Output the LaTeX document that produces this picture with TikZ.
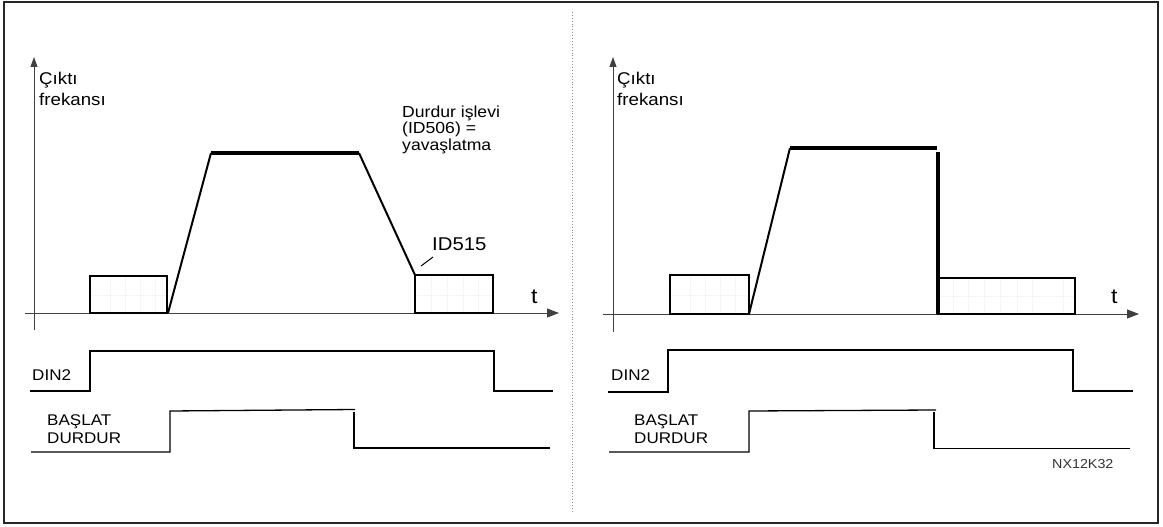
\documentclass[tikz,border=0pt]{standalone}
\usepackage{fontspec}
\setmainfont{Liberation Sans}[FakeStretch=1.1]
\usetikzlibrary{arrows.meta}

\begin{document}
\begin{tikzpicture}[
    x=1pt, y=-1pt,
    frame/.style={draw=black!85, line width=1.4pt},
    divider/.style={draw=black!45, line width=0.9pt, dotted},
    axis/.style={draw=black!75, line width=0.9pt},
    yarrow/.style={axis, -{Triangle[length=10pt, width=7pt]}},
    tarrow/.style={axis, -{Triangle[length=12pt, width=9pt]}},
    pulsebox/.style={draw=black, line width=1.5pt},
    hatch/.style={draw=black!4, line width=0.6pt},
    ramp/.style={draw=black, line width=2pt},
    plateau/.style={draw=black, line width=3.4pt},
    signal/.style={draw=black, line width=1.3pt},
    lbl/.style={anchor=base west, inner sep=0pt, align=left},
    axislbl/.style={lbl, font=\fontsize{17}{21}\selectfont},
    timelbl/.style={lbl, font=\fontsize{21}{21}\selectfont},
    notelbl/.style={lbl, font=\fontsize{16}{16.5}\selectfont},
    idlbl/.style={lbl, font=\fontsize{18.5}{20}\selectfont},
    siglbl/.style={lbl, font=\fontsize{15.5}{18}\selectfont},
    codelbl/.style={lbl, font=\fontsize{13}{15}\selectfont, black!80},
]
\useasboundingbox (0,0) rectangle (1163,527);

% Outer frame and divider
\draw[frame] (4,2) rectangle (1158,523);
\draw[divider] (572,12) -- (572,512);

% ---------------- Left panel: stop by ramp ----------------
\coordinate (Lorigin) at (34,313);
\draw[yarrow] (34,330) -- (34,57);
\draw[tarrow] (25,313) -- (559,313);
\node[axislbl] (Lfreq) at (39,106) {Çıktı\\frekansı};
\node[timelbl] (Ltime) at (531,303) {t};

% DC brake boxes
\foreach \x in {110,125,140,155} \draw[hatch] (\x,277) -- (\x,312);
\draw[hatch] (91,295) -- (166,295);
\draw[pulsebox] (90,276) rectangle (167,313);
\foreach \x in {431,447,463,478} \draw[hatch] (\x,276) -- (\x,312);
\draw[hatch] (416,295) -- (492,295);
\draw[pulsebox] (415,275) rectangle (493,313);

% Output frequency
\coordinate (Lup0) at (168,313);
\coordinate (Lup1) at (211,153);
\coordinate (Ldn0) at (359,153);
\coordinate (Ldn1) at (415,275);
\draw[ramp] (Lup0) -- (Lup1);
\draw[plateau] (Lup1) -- (Ldn0);
\draw[ramp] (Ldn0) -- (Ldn1);

\node[notelbl] (Lnote) at (402,150) {Durdur işlevi\\(ID506) =\\yavaşlatma};
\node[idlbl] (Lid) at (432,250) {ID515};
\draw[signal, line width=1pt] (421,266) -- (433,257);

% Control signals
\draw[signal] (30,391) -- (90,391) -- (90,351) -- (494,351) -- (494,391) -- (553,391);
\node[siglbl] (Ldin) at (32,380) {DIN2};
\draw[signal] (31,452) -- (170,452) -- (170,411) -- (355,409.5);
\draw[signal] (354,412) -- (354,448) -- (550,448);
\node[siglbl] (Lstart) at (47,443) {BAŞLAT\\DURDUR};

% ---------------- Right panel: stop by coasting ----------------
\coordinate (Rorigin) at (613,314);
\draw[yarrow] (613,332) -- (613,57);
\draw[tarrow] (603,314) -- (1139,314);
\node[axislbl] (Rfreq) at (617,106) {Çıktı\\frekansı};
\node[timelbl] (Rtime) at (1111,303) {t};

% DC brake boxes
\foreach \x in {690,705,720,735} \draw[hatch] (\x,276) -- (\x,313);
\draw[hatch] (671,295) -- (748,295);
\draw[pulsebox] (670,275) rectangle (749,314);
\foreach \x in {953,968,984,1000,1017,1032,1063} \draw[hatch] (\x,279) -- (\x,313);
\draw[hatch] (939,296) -- (1074,296);
\draw[pulsebox] (938,278) rectangle (1075,314);

% Output frequency
\coordinate (Rup0) at (749,314);
\coordinate (Rup1) at (790,148);
\coordinate (Roff0) at (937,148);
\coordinate (Roff1) at (938,314);
\draw[ramp] (Rup0) -- (Rup1);
\draw[plateau] (Rup1) -- (Roff0);
\draw[plateau] (938,152) -- (Roff1);

% Control signals
\draw[signal] (608,392) -- (668,392) -- (668,350) -- (1073,350) -- (1073,391) -- (1133,391);
\node[siglbl] (Rdin) at (611,380) {DIN2};
\draw[signal] (609,452) -- (749,452) -- (749,411) -- (936,410);
\draw[signal] (934,412) -- (934,448.5) -- (1130,448.5);
\node[siglbl] (Rstart) at (634,443) {BAŞLAT\\DURDUR};

\node[codelbl] (code) at (1052,468) {NX12K32};

\end{tikzpicture}
\end{document}
